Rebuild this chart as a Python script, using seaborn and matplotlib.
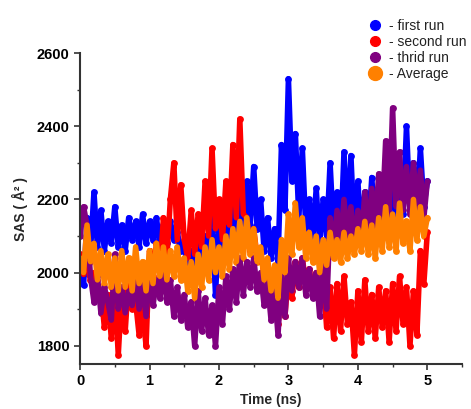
import numpy as np
import pandas as pd
import matplotlib
matplotlib.use("Agg")
import matplotlib.pyplot as plt
import seaborn as sns
from matplotlib.lines import Line2D

# time axis (ns), 0.05 ns steps
time_ns = [round(i * 0.05, 2) for i in range(101)]

first_run = [1990, 1965, 2150, 2060, 2220, 2070, 2170, 2060, 2140, 2080,
             2180, 2070, 2130, 2060, 2150, 2090, 2140, 2070, 2160, 2080,
             2140, 2090, 2150, 2070, 2130, 2080, 2140, 2090, 2110, 2060,
             2080, 2010, 2060, 2000, 2090, 2030, 2100, 2040, 2150, 1940,
             2140, 2070, 2150, 2080, 2200, 2110, 2230, 2120, 2250, 2130,
             2290, 2120, 2200, 2060, 2150, 2040, 2120, 2030, 2350, 2170,
             2530, 2250, 2380, 2150, 2340, 2120, 2200, 2090, 2230, 2080,
             2200, 2100, 2300, 2110, 2220, 2080, 2330, 2120, 2320, 2100,
             2250, 2090, 2220, 2100, 2260, 2120, 2230, 2130, 2240, 2140,
             2280, 2150, 2260, 2160, 2400, 2170, 2300, 2160, 2340, 2180,
             2250]

second_run = [2050, 1995, 2040, 1980, 2000, 1930, 1950, 1850, 1940, 1820,
              1960, 1775, 1950, 1840, 1990, 1900, 1920, 1830, 1900, 1800,
              2060, 1990, 2080, 2000, 2150, 2040, 2200, 2300, 2090, 2240,
              2090, 2040, 2170, 2050, 2160, 2070, 2250, 2100, 2340, 2120,
              2200, 2090, 2250, 2130, 2350, 2150, 2420, 2160, 2150, 2060,
              2120, 2040, 2060, 1990, 1980, 1900, 1960, 1860, 1950, 1880,
              2000, 1930, 2030, 1960, 2040, 1970, 2010, 1950, 2000, 1930,
              1990, 1850, 1960, 1820, 1970, 1840, 1990, 1860, 1920, 1775,
              1950, 1810, 1980, 1840, 1940, 1820, 1960, 1850, 1950, 1810,
              1970, 1840, 1990, 1860, 1960, 1800, 1950, 1830, 2060, 1970,
              2110]

third_run = [2100, 2180, 2130, 1990, 1920, 1990, 1890, 1960, 1920, 1870,
             2050, 1900, 1960, 1890, 1950, 1910, 1990, 1900, 1970, 1880,
             2000, 1910, 1980, 1930, 2010, 1920, 1980, 1880, 1960, 1870,
             1940, 1850, 1920, 1800, 1950, 1840, 1930, 1830, 1910, 1800,
             1960, 1860, 1990, 1900, 2010, 1920, 2040, 1940, 2030, 1960,
             2040, 1950, 2000, 1910, 1970, 1870, 1950, 1830, 1990, 1880,
             2040, 1950, 2030, 1960, 2040, 1940, 2010, 1930, 2000, 1880,
             2030, 1900, 2150, 2060, 2170, 2080, 2200, 2090, 2180, 2070,
             2170, 2080, 2220, 2090, 2230, 2120, 2270, 2150, 2360, 2160,
             2450, 2180, 2330, 2170, 2290, 2160, 2300, 2180, 2280, 2150,
             2250]

average = [2040, 2000, 2130, 2030, 2080, 1980, 2060, 1970, 2050, 1960,
           2040, 1950, 2060, 1960, 2040, 1950, 2070, 1970, 2030, 1950,
           2060, 1970, 2080, 1990, 2070, 1980, 2060, 1990, 2070, 1980,
           2040, 1950, 2030, 1930, 2050, 1960, 2070, 1980, 2090, 2000,
           2070, 1990, 2100, 2010, 2120, 2030, 2140, 2040, 2150, 2050,
           2120, 2030, 2070, 1980, 2040, 1950, 2020, 1930, 2090, 2000,
           2160, 2050, 2190, 2070, 2150, 2040, 2110, 2030, 2100, 2000,
           2090, 2020, 2110, 2040, 2090, 2030, 2110, 2040, 2100, 2050,
           2120, 2060, 2140, 2050, 2130, 2040, 2150, 2060, 2180, 2070,
           2160, 2060, 2190, 2080, 2140, 2060, 2200, 2090, 2180, 2100,
           2150]

series_names = ["- first run", "- second run", "- thrid run", "- Average"]
series_colors = ["#0000FF", "#FF0000", "#800080", "#FF8000"]

df = pd.DataFrame({
    "time": time_ns * 4,
    "sas": first_run + second_run + third_run + average,
    "run": sum([[n] * len(time_ns) for n in series_names], []),
})

sns.set_style("ticks")
plt.rcParams["font.family"] = ["Liberation Sans", "DejaVu Sans"]

fig = plt.figure(figsize=(4.71, 4.09), dpi=100)
ax = fig.add_axes([0.170, 0.110, 0.811, 0.760])

for name, col in zip(series_names, series_colors):
    sub = df[df["run"] == name]
    sns.lineplot(data=sub, x="time", y="sas", color=col, lw=4.0, ax=ax,
                 estimator=None, sort=False, legend=False,
                 solid_joinstyle="round", solid_capstyle="round")
    sns.scatterplot(data=sub, x="time", y="sas", color=col, s=24,
                    linewidth=0, ax=ax, legend=False)

ax.set_xlim(0, 5.5)
ax.set_ylim(1750, 2600)
ax.set_xticks([0, 1, 2, 3, 4, 5])
ax.set_xticks(np.arange(0.5, 5.6, 1.0), minor=True)
ax.set_yticks([1800, 2000, 2200, 2400, 2600])
ax.set_yticks([1900, 2100, 2300, 2500], minor=True)
ax.tick_params(axis="both", which="major", length=4, width=1.2,
               labelsize=10.5, direction="out", colors="#333333",
               labelcolor="black")
ax.tick_params(axis="both", which="minor", length=2.5, width=1.0,
               direction="out", colors="#333333")
for lab in ax.get_xticklabels() + ax.get_yticklabels():
    lab.set_fontweight("bold")
for sp in ["left", "bottom"]:
    ax.spines[sp].set_linewidth(1.5)
    ax.spines[sp].set_color("#333333")
sns.despine(ax=ax)

ax.set_xlabel("Time (ns)", fontsize=10, fontweight="bold", labelpad=3)
ax.set_ylabel("SAS ( Å² )", fontsize=10, fontweight="bold", labelpad=6)

handles = [Line2D([0], [0], marker="o", ls="", color=c,
                  markersize=(7 if i < 3 else 10))
           for i, c in enumerate(series_colors)]
leg = fig.legend(handles, series_names, loc="upper left",
                 bbox_to_anchor=(0.752, 0.985), frameon=False,
                 fontsize=10, handletextpad=0.4, labelspacing=0.15,
                 handlelength=1.2)
for t in leg.get_texts():
    t.set_color("#222222")

fig.savefig("out.png", dpi=100)
